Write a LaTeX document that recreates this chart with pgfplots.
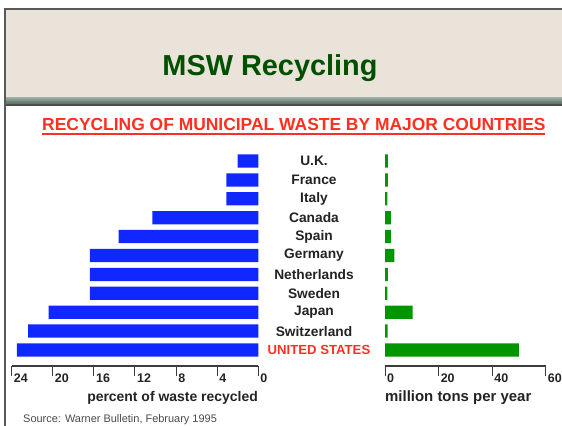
\documentclass[border=0pt]{standalone}
\usepackage{pgfplots}
\pgfplotsset{compat=1.18}
\usepackage{fontspec}
\setmainfont{Liberation Sans}
\definecolor{barblue}{RGB}{16,40,255}
\definecolor{bargreen}{RGB}{0,150,0}
\definecolor{titlegreen}{RGB}{0,80,0}
\definecolor{subred}{RGB}{255,48,32}
\definecolor{beige}{RGB}{234,227,217}
\definecolor{stripA}{RGB}{160,178,168}
\definecolor{stripB}{RGB}{95,115,105}
\definecolor{labgray}{RGB}{35,35,35}
\definecolor{axgray}{RGB}{60,60,60}
\pgfplotstableread{
y pct
0 23.5
1 22.4
2 20.4
3 16.4
4 16.4
5 16.4
6 13.6
7 10.3
8 3.1
9 3.1
10 2.0
}\pcttable
\pgfplotstableread{
y tons
0 50.0
1 1.0
2 10.3
3 0.9
4 1.1
5 3.5
6 2.2
7 2.2
8 0.9
9 1.1
10 1.1
}\tonstable
\begin{document}
\begin{tikzpicture}
\useasboundingbox (0,0) rectangle (562bp,-426bp);
\fill[white] (0,0) rectangle (562bp,-426bp);
\fill[beige] (5bp,-9bp) rectangle (562bp,-97bp);
\shade[top color=stripA, bottom color=stripB] (5bp,-97bp) rectangle (562bp,-103bp);
\fill[black!70] (5bp,-103.5bp) rectangle (562bp,-106bp);
\draw[black!65, line width=2bp] (5bp,-426bp) -- (5bp,-9bp) -- (562bp,-9bp);
\node[anchor=base, inner sep=0pt, text=titlegreen, font=\bfseries\fontsize{29}{29}\selectfont] at (270bp,-75bp) {MSW Recycling};
\node[anchor=base west, inner sep=0pt, text=subred, font=\bfseries\fontsize{17.5}{17.5}\selectfont] at (42bp,-130bp) {RECYCLING OF MUNICIPAL WASTE BY MAJOR COUNTRIES};
\draw[subred, line width=1.5bp] (42bp,-133.8bp) -- (545bp,-133.8bp);
\pgfplotsset{
  common/.style={
    scale only axis,
    height=215bp,
    ymin=-0.847, ymax=10.53,
    xbar, bar width=0.7,
    enlargelimits=false,
    axis x line=bottom,
    x axis line style={-, line width=1.4bp, draw=axgray},
    tick align=outside,
    major tick length=10bp,
    xtick style={line width=1bp, draw=axgray},
    /pgf/number format/assume math mode=true,
    xticklabel style={anchor=north west, inner sep=0pt, xshift=2bp, yshift=2bp,
      font=\bfseries\fontsize{12.5}{13}\selectfont, text=labgray},
  }
}
\begin{axis}[common,
  at={(258.3bp,-366bp)}, anchor=south east,
  width=246.6bp,
  xmin=0, xmax=24, x dir=reverse,
  xtick={0,4,8,12,16,20,24},
  axis y line=none, ytick=\empty,
]
\addplot[fill=barblue, draw=none] table[x=pct, y=y] {\pcttable};
\end{axis}
\begin{axis}[common,
  at={(385bp,-366bp)}, anchor=south west,
  width=160.7bp,
  xmin=0, xmax=60,
  xtick={0,20,40,60},
  axis y line=left,
  y axis line style={draw=none},
  ytick={0,1,2,3,4,5,6,7,8,9,10},
  ytick style={draw=none},
  yticklabels={{\hspace*{10bp}\textcolor{subred}{\bfseries\fontsize{13.2}{14}\selectfont UNITED STATES}},Switzerland,Japan,Sweden,Netherlands,Germany,Spain,Canada,Italy,France,U.K.},
  yticklabel style={anchor=center, xshift=-66bp, inner sep=0pt,
    font=\bfseries\fontsize{13.8}{14}\selectfont, text=labgray},
]
\addplot[fill=bargreen, draw=none] table[x=tons, y=y] {\tonstable};
\end{axis}
\node[anchor=base east, inner sep=0pt, text=labgray, font=\bfseries\fontsize{14}{14}\selectfont] at (258bp,-401bp) {percent of waste recycled};
\node[anchor=base west, inner sep=0pt, text=labgray, font=\bfseries\fontsize{15}{15}\selectfont] at (385bp,-401bp) {million tons per year};
\node[anchor=base west, inner sep=0pt, text=black!70, font=\fontsize{11}{11}\selectfont] at (23bp,-422bp) {Source: Warner Bulletin, February 1995};
\end{tikzpicture}
\end{document}
